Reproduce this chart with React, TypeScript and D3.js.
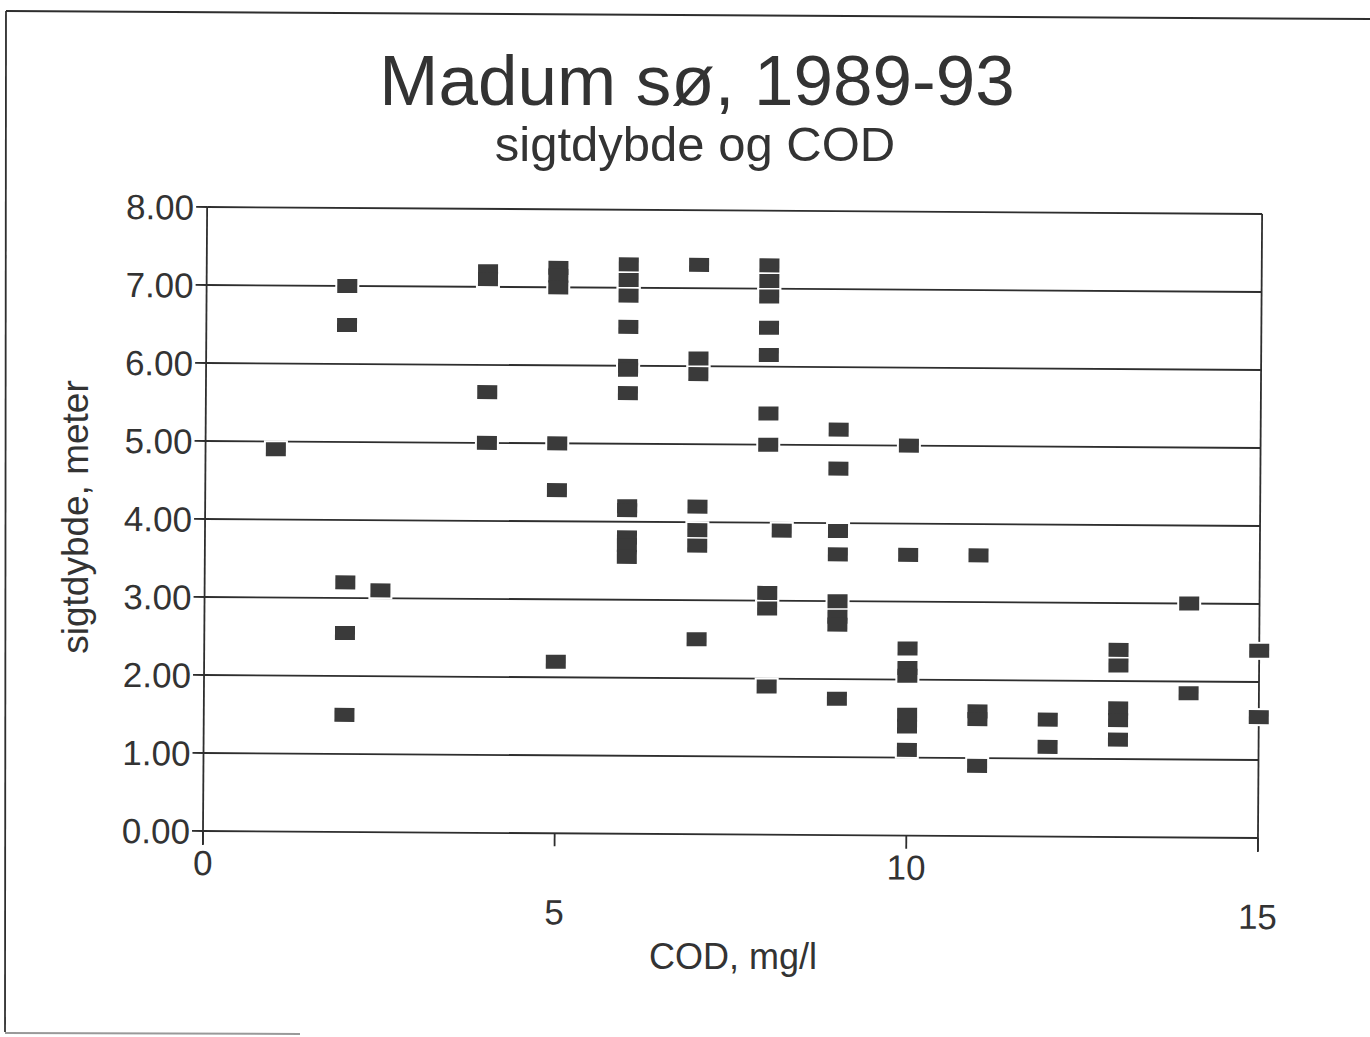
import React from "react";
import * as d3 from "d3";

// COD (mg/l) and sigtdybde (meter)
const cod = [
  1,
  2, 2, 2, 2, 2,
  2.5,
  4, 4, 4, 4,
  5, 5, 5, 5, 5, 5,
  6, 6, 6, 6, 6, 6, 6, 6, 6, 6, 6, 6,
  7, 7, 7, 7, 7, 7, 7,
  8, 8, 8, 8, 8, 8, 8, 8, 8, 8,
  8.2,
  9, 9, 9, 9, 9, 9, 9, 9,
  10, 10, 10, 10, 10, 10, 10, 10,
  11, 11, 11, 11,
  12, 12,
  13, 13, 13, 13, 13,
  14, 14,
  15, 15,
];
const sigtdybde = [
  4.9,
  7.0, 6.5, 3.2, 2.55, 1.5,
  3.1,
  7.2, 7.1, 5.65, 5.0,
  7.25, 7.15, 7.0, 5.0, 4.4, 2.2,
  7.3, 7.1, 6.9, 6.5, 6.0, 5.95, 5.65, 4.2, 4.15, 3.8, 3.7, 3.55,
  7.3, 6.1, 5.9, 4.2, 3.9, 3.7, 2.5,
  7.3, 7.1, 6.9, 6.5, 6.15, 5.4, 5.0, 3.1, 2.9, 1.9,
  3.9,
  5.2, 4.7, 3.9, 3.6, 3.0, 2.8, 2.7, 1.75,
  5.0, 3.6, 2.4, 2.15, 2.05, 1.55, 1.4, 1.1,
  3.6, 1.6, 1.5, 0.9,
  1.5, 1.15,
  2.4, 2.2, 1.65, 1.5, 1.25,
  3.0, 1.85,
  2.4, 1.55,
];
const yTicks = [0, 1, 2, 3, 4, 5, 6, 7, 8];
const xTicks = [0, 5, 10, 15];

const title = "Madum sø, 1989-93";
const subtitle = "sigtdybde og COD";
const xTitle = "COD, mg/l";
const yTitle = "sigtdybde, meter";

export default function App() {
  const W = 1370;
  const H = 1037;
  const x = d3.scaleLinear().domain([0, 15]).range([203, 1258]);
  const y = d3.scaleLinear().domain([0, 8]).range([831, 207]);
  const fmt = d3.format(".2f");
  const ink = "#2e2e2e";
  const font = "'Liberation Sans', Arial, Helvetica, sans-serif";
  const mw = 20;
  const mh = 14;
  const halo = 2;
  const points = cod.map((c, i) => ({ c, d: sigtdybde[i] }));

  return (
    <svg
      width={W}
      height={H}
      viewBox={`0 0 ${W} ${H}`}
      style={{ position: "absolute", left: 0, top: 0, background: "#fff" }}
      fontFamily={font}
    >
      <rect x={0} y={0} width={W} height={H} fill="#fff" />
      {/* page frame */}
      <line x1={6} y1={11} x2={W} y2={19} stroke={ink} strokeWidth={2} />
      <line x1={6} y1={11} x2={5} y2={1032} stroke={ink} strokeWidth={1.8} />
      <line x1={5} y1={1033} x2={300} y2={1034} stroke="#999" strokeWidth={2} />

      <text x={697} y={105} fontSize={71} textAnchor="middle" fill="#333">
        {title}
      </text>
      <text x={695} y={161} fontSize={49} textAnchor="middle" fill="#333">
        {subtitle}
      </text>

      <g transform="rotate(0.38, 203, 831)">
        {/* gridlines */}
        {yTicks.map((t) => (
          <line
            key={"g" + t}
            x1={x(0)}
            x2={x(15)}
            y1={y(t)}
            y2={y(t)}
            stroke={ink}
            strokeWidth={1.8}
          />
        ))}
        {/* right border */}
        <line x1={x(15)} x2={x(15)} y1={y(8)} y2={y(0) + 14} stroke={ink} strokeWidth={1.8} />
        {/* y axis */}
        <line x1={x(0)} x2={x(0)} y1={y(8)} y2={y(0) + 14} stroke={ink} strokeWidth={1.8} />
        {yTicks.map((t) => (
          <g key={"yt" + t}>
            <line x1={x(0) - 11} x2={x(0)} y1={y(t)} y2={y(t)} stroke={ink} strokeWidth={1.8} />
            <text
              x={x(0) - 13}
              y={y(t)}
              dy="0.36em"
              fontSize={35}
              textAnchor="end"
              fill="#333"
            >
              {fmt(t)}
            </text>
          </g>
        ))}
        {xTicks.map((t, i) => (
          <g key={"xt" + t}>
            <line x1={x(t)} x2={x(t)} y1={y(0)} y2={y(0) + 13} stroke={ink} strokeWidth={1.8} />
            <text
              x={x(t)}
              y={y(0) + (i % 2 === 0 ? 44 : 91)}
              fontSize={35}
              textAnchor="middle"
              fill="#333"
            >
              {t}
            </text>
          </g>
        ))}
        {/* marker halos */}
        {points.map((p, i) => (
          <rect
            key={"h" + i}
            x={x(p.c) - mw / 2 - halo}
            y={y(p.d) - mh / 2 - halo}
            width={mw + 2 * halo}
            height={mh + 2 * halo}
            fill="#fff"
          />
        ))}
        {/* markers */}
        {points.map((p, i) => (
          <rect
            key={"p" + i}
            x={x(p.c) - mw / 2}
            y={y(p.d) - mh / 2}
            width={mw}
            height={mh}
            fill="#3a3a3a"
          />
        ))}
      </g>

      <text x={733} y={969} fontSize={36} textAnchor="middle" fill="#333">
        {xTitle}
      </text>
      <text
        transform="translate(88, 517) rotate(-90)"
        fontSize={37}
        textAnchor="middle"
        fill="#333"
      >
        {yTitle}
      </text>
    </svg>
  );
}
